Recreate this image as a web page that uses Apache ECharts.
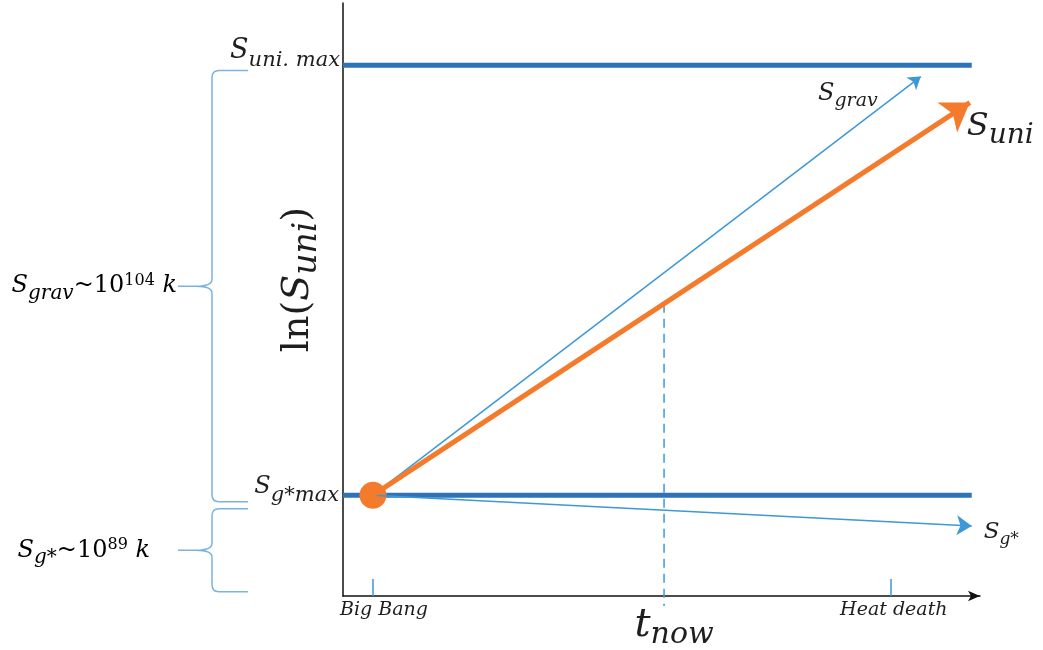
<!DOCTYPE html>
<html><head><meta charset="utf-8">
<script src="https://cdn.jsdelivr.net/npm/echarts@6/dist/echarts.min.js"></script>
<style>html,body{margin:0;padding:0;background:#fff}#c{width:1043px;height:650px}</style>
</head><body><div id="c"></div>
<script>
// ---- data ----
const levelNames = ['S_uni.max', 'S_g*max'];
const levelValues = [89.5, 17];
const lineEndX = 98.7;
const startPoint = [4.7, 17];
const arrowNames = ['S_uni', 'S_grav', 'S_g*'];
const arrowEnds = [[98.4, 83.2], [90.7, 87.6], [98.7, 11.8]];
const tNow = 50.4;
const tNowBottom = -1.7;
const timeTickValues = [4.7, 86];
const timeTickLabels = ['Big Bang', 'Heat death'];
const braceRanges = [[88.6, 15.9], [14.7, 0.7]];
const braceNames = ['S_grav~10^104 k', 'S_g*~10^89 k'];

// ---- styles ----
const F = '"DejaVu Serif", "Liberation Serif", serif';
const TXT = '#1e1e1e';
const it = (s, extra) => Object.assign({fontFamily: F, fontStyle: 'italic', fontSize: s, color: TXT}, extra || {});
const up = (s, extra) => Object.assign({fontFamily: F, fontStyle: 'normal', fontSize: s, color: TXT}, extra || {});
const rich = {
  // S_uni.max
  a1: it(27), a2: it(21, {padding: [18, 0, 0, 0]}),
  // S_g*max
  b1: it(24), b2: it(21, {padding: [16, 0, 0, 0]}),
  // S_uni
  c1: it(32), c2: it(28, {padding: [19, 0, 0, 0]}),
  // S_grav (arrow)
  d1: it(24), d2: it(19, {padding: [15, 0, 0, 0]}),
  // S_g* (arrow)
  e1: it(23), e2: it(17, {padding: [16, 0, 0, 0]}),
  // brace labels
  f1: it(24), f2: it(20, {padding: [15, 0, 0, 0]}), f3: up(24), f4: up(16, {padding: [0, 0, 10, 0]}), f5: it(24),
  // ln(S_uni)
  g1: up(38), g2: it(38), g3: it(33, {padding: [19, 0, 0, 0]})
};
const ORANGE = '#F47B2C', DARK = '#2E72B8', LIGHT = '#3D98D6', BRACE = '#7DB3E0';

// y on orange line at tNow (where the dashed line starts)
const uniEnd = arrowEnds[0];
const tNowTop = startPoint[1] + (uniEnd[1] - startPoint[1]) * (tNow - startPoint[0]) / (uniEnd[0] - startPoint[0]);

const braceText = [
  '{f1|S}{f2|grav}{f3|~10}{f4|104}{f5| k}',
  '{f1|S}{f2|g*}{f3|~10}{f4|89}{f5| k}'
];

const series = [];
levelValues.forEach((v, i) => {
  series.push({
    type: 'line', name: levelNames[i], data: [[0, v], [lineEndX, v]],
    symbol: 'none', lineStyle: {color: DARK, width: 5}, z: 2, silent: true
  });
});
// orange dot at Big Bang
series.push({type: 'scatter', data: [startPoint], symbolSize: 27, itemStyle: {color: ORANGE, opacity: 1}, z: 3, silent: true});
// arrows
const arrowStyles = [
  {color: ORANGE, width: 5, size: 27},
  {color: LIGHT, width: 1.5, size: 12},
  {color: LIGHT, width: 1.5, size: 15}
];
arrowEnds.forEach((e, i) => {
  const st = arrowStyles[i];
  series.push({
    type: 'lines', coordinateSystem: 'cartesian2d', name: arrowNames[i],
    symbol: ['none', 'arrow'], symbolSize: st.size,
    lineStyle: {color: st.color, width: st.width, opacity: 1},
    data: [{coords: [startPoint, e]}], z: i === 0 ? 5 : 4, silent: true
  });
});
// t_now dashed
series.push({
  type: 'line', data: [[tNow, tNowTop], [tNow, tNowBottom]], clip: false, symbol: 'none',
  lineStyle: {color: LIGHT, width: 1.5, type: [9, 6]}, silent: true, z: 3
});
// braces
series.push({
  type: 'custom', data: braceRanges, clip: false, silent: true,
  renderItem(params, api) {
    const top = api.coord([0, api.value(0)]);
    const bot = api.coord([0, api.value(1)]);
    const x0 = top[0];
    const xe = x0 - 95, xv = x0 - 131, xt = x0 - 147, xl = x0 - 165;
    const yt = top[1], yb = bot[1], ym = (yt + yb) / 2, r = 7;
    const d = `M${xe} ${yt} L${xv + r} ${yt} Q${xv} ${yt} ${xv} ${yt + r} L${xv} ${ym - r} Q${xv} ${ym} ${xt} ${ym} Q${xv} ${ym} ${xv} ${ym + r} L${xv} ${yb - r} Q${xv} ${yb} ${xv + r} ${yb} L${xe} ${yb} M${xl} ${ym} L${xt} ${ym}`;
    const children = [{
      type: 'path',
      shape: {pathData: d, x: xl, y: yt, width: xe - xl, height: yb - yt, layout: 'cover'},
      style: {fill: null, stroke: BRACE, lineWidth: 1.5}
    }];
    children.push({
      type: 'text', x: params.dataIndex === 0 ? xl - 1 : xl - 28, y: ym,
      style: {text: braceText[params.dataIndex], rich: rich, align: 'right', verticalAlign: 'middle'}
    });
    return {type: 'group', children};
  }
});
// text labels attached to data positions
const labelData = [
  {value: [0, levelValues[0]], label: {formatter: '{a1|S}{a2|uni. max}', position: 'left', offset: [2, -14]}},
  {value: [0, levelValues[1]], label: {formatter: '{b1|S}{b2|g*max}', position: 'left', offset: [1, -8]}},
  {value: arrowEnds[0], label: {formatter: '{c1|S}{c2|uni}', position: 'right', offset: [-8, 24]}},
  {value: arrowEnds[1], label: {formatter: '{d1|S}{d2|grav}', position: 'left', offset: [-38, 17]}},
  {value: arrowEnds[2], label: {formatter: '{e1|S}{e2|g*}', position: 'right', offset: [7, 6]}}
];
series.push({
  type: 'scatter', data: labelData, symbolSize: 0, silent: true, z: 6,
  itemStyle: {opacity: 1},
  label: {show: true, rich: rich, color: TXT, opacity: 1}
});

const option = {
  animation: false,
  backgroundColor: '#fff',
  grid: {left: 343, right: 63, top: 3, bottom: 53},
  xAxis: {
    type: 'value', min: 0, max: 100,
    axisLine: {show: true, lineStyle: {color: '#111', width: 1.5}, symbol: ['none', 'arrow'], symbolSize: [8, 12]},
    splitLine: {show: false},
    axisTick: {show: true, inside: true, length: 17, customValues: timeTickValues, lineStyle: {color: LIGHT, width: 1.5}},
    axisLabel: {
      customValues: [...timeTickValues, tNow], margin: 5,
      formatter: v => {
        const idx = timeTickValues.indexOf(v);
        if (idx === 0) return '{tl0|' + timeTickLabels[idx] + '}';
        if (idx > 0) return '{tl|' + timeTickLabels[idx] + '}';
        return '{t|t}{tsub|now}';
      },
      rich: {
        tl0: it(19, {padding: [0, 0, 0, 22]}), tl: it(19, {padding: [0, 0, 0, 6]}),
        t: it(40, {padding: [0, 0, 0, 20]}), tsub: it(30, {padding: [19, 0, 0, 0]})
      }
    }
  },
  yAxis: {
    type: 'value', min: 0, max: 100,
    axisLine: {show: true, lineStyle: {color: '#111', width: 1.5}},
    axisTick: {show: false}, axisLabel: {show: false}, splitLine: {show: false},
    name: '{g1|ln(}{g2|S}{g3|uni}{g1|)}',
    nameLocation: 'middle', nameRotate: 90, nameGap: 19,
    nameTextStyle: {rich: rich, padding: [0, 0, 0, 40]}
  },
  series
};
const chart = echarts.init(document.getElementById('c'), null, {renderer: 'canvas'});
chart.setOption(option);
</script>
</body></html>
